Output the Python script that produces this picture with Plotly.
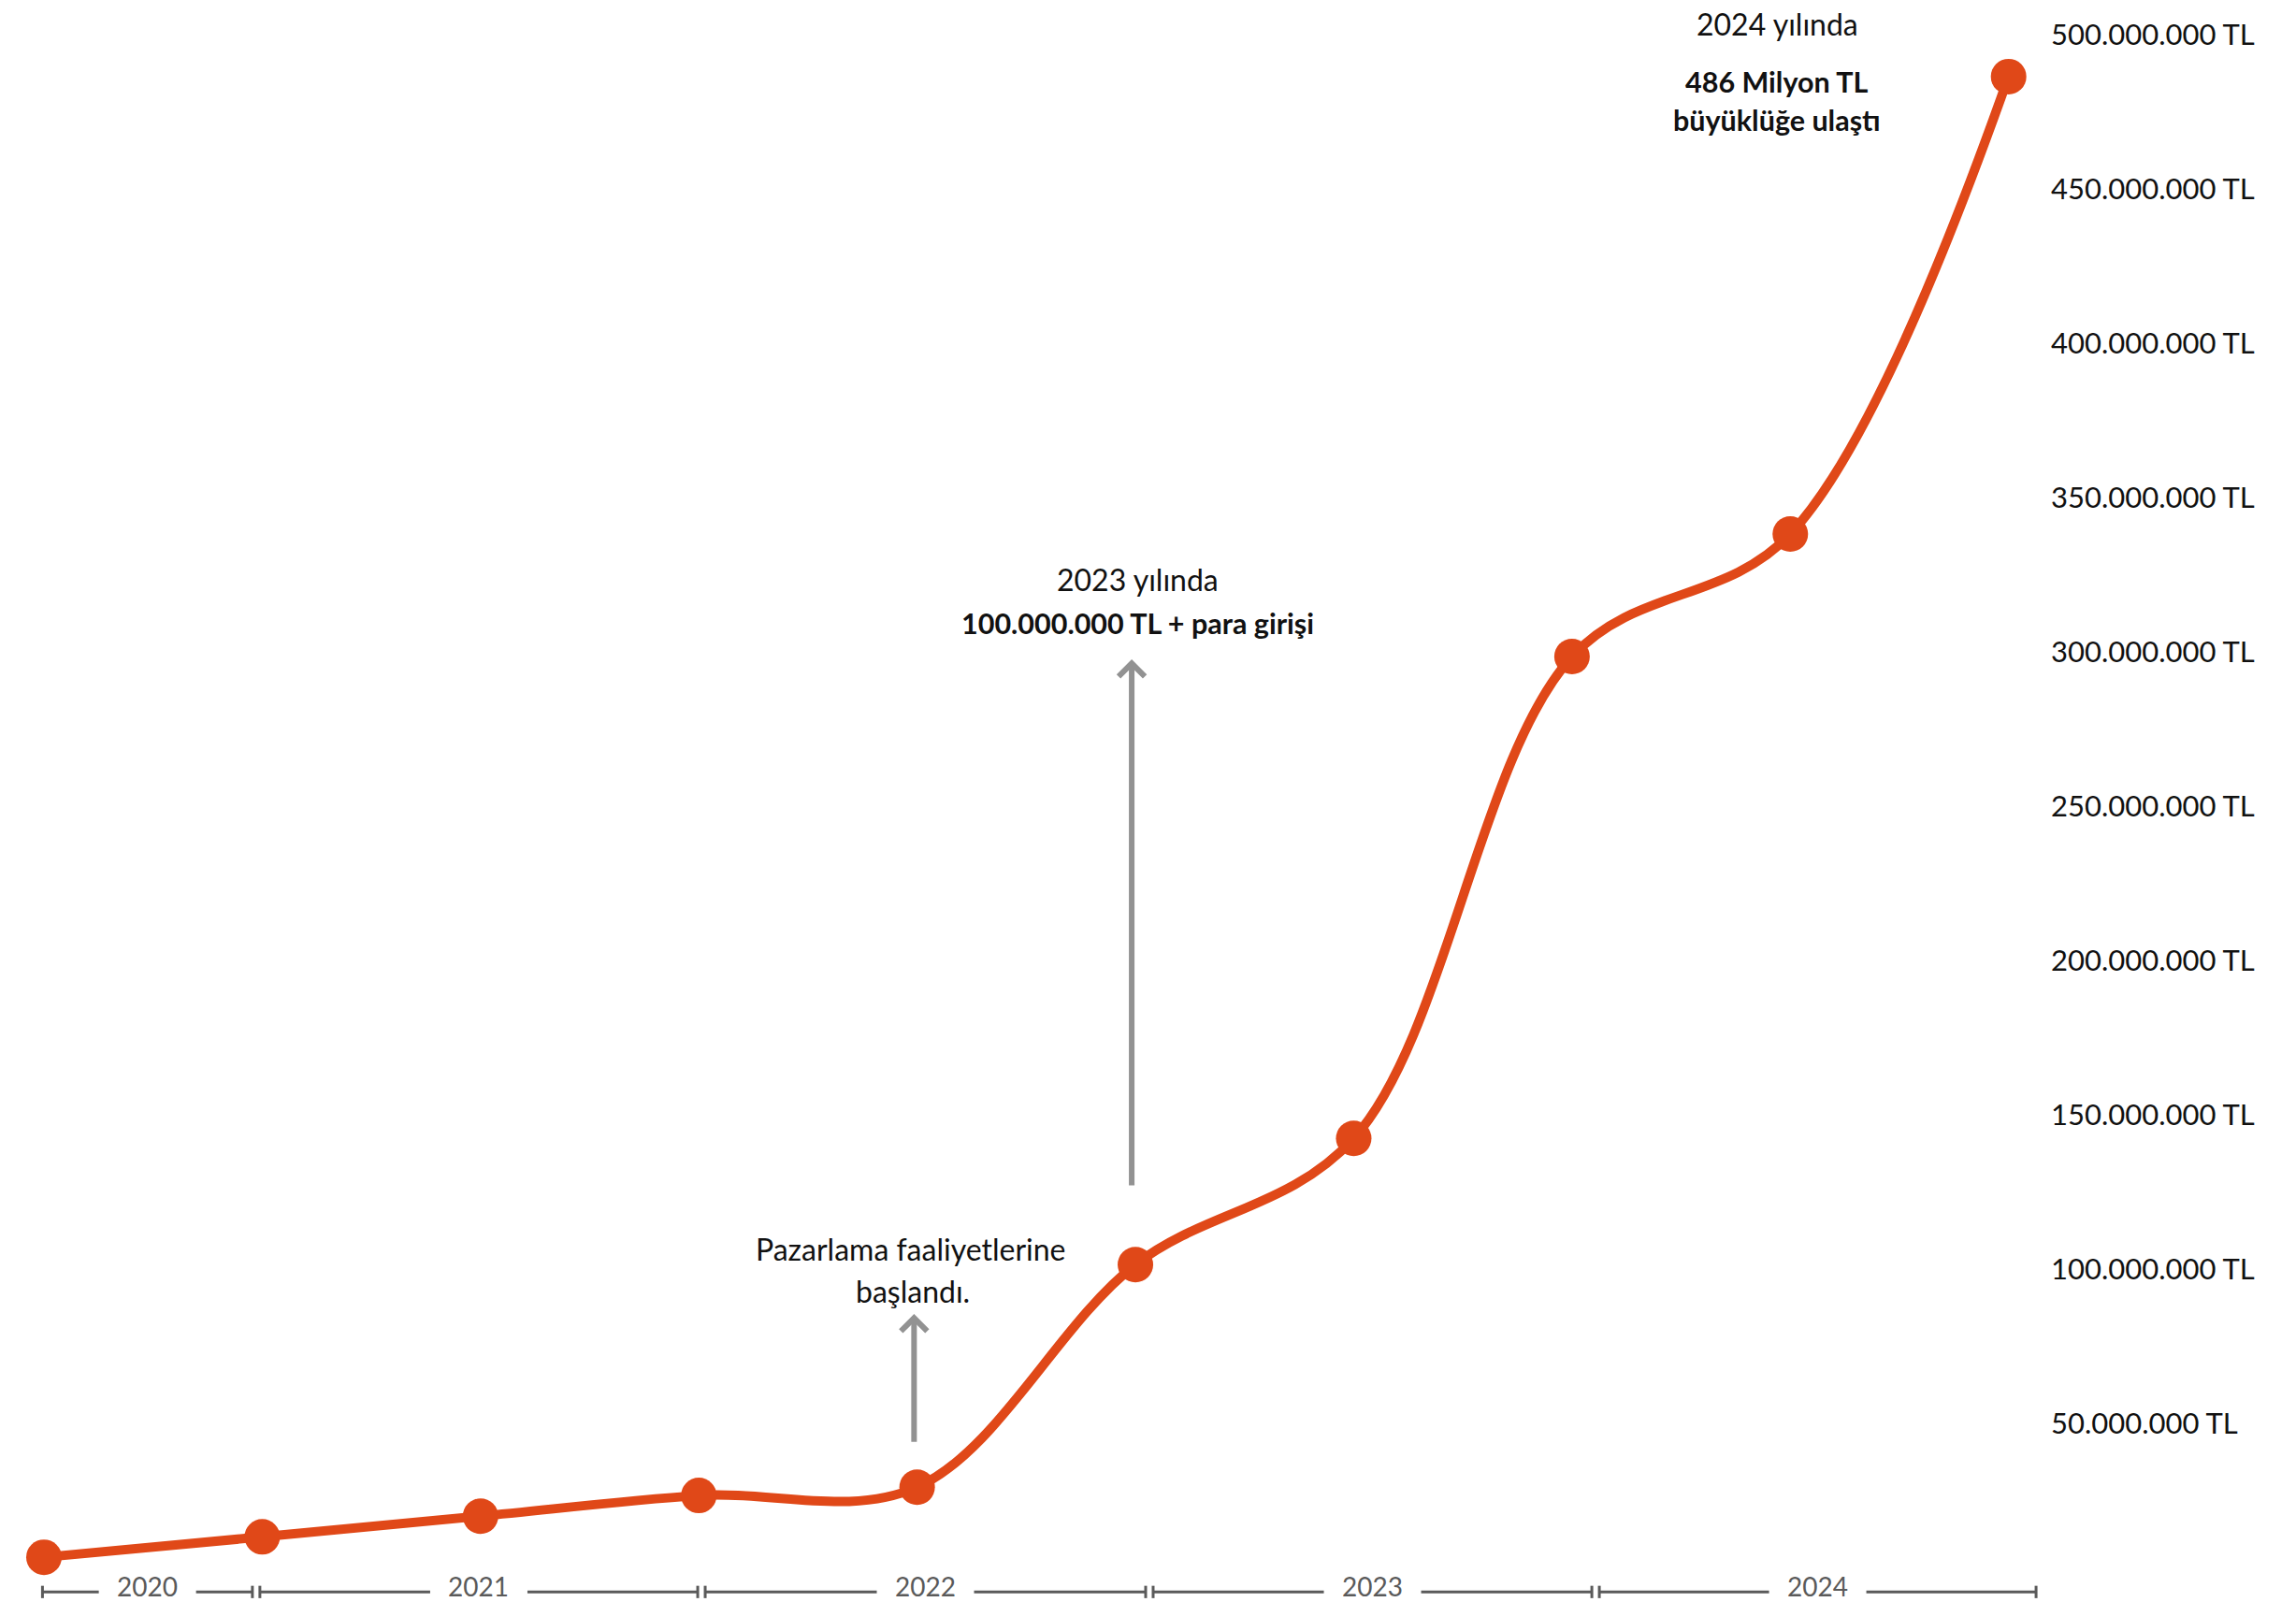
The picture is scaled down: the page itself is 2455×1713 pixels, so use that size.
import plotly.graph_objects as go

# ---- data ----
values_m = [6.7, 13.3, 20.0, 26.7, 29.4, 101.5, 142.4, 298.5, 338.2, 486.4]  # million TL
years = ["2020", "2021", "2022", "2023", "2024"]
year_bounds = [-0.024, 0.972, 3.012, 5.064, 7.108, 9.143]  # in point-index units
tick_vals_m = [50, 100, 150, 200, 250, 300, 350, 400, 450, 500]
tick_text = [f"{v:,}.000.000 TL".replace(",", ".") for v in tick_vals_m]

ORANGE = "#E04818"
AXIS_GRAY = "#5a5a5a"
ARROW_GRAY = "#929292"
FONT = "Lato"

x_idx = list(range(len(values_m)))

fig = go.Figure()
fig.add_trace(go.Scatter(
    x=x_idx, y=values_m, mode="lines+markers",
    line=dict(color=ORANGE, width=10, shape="spline", smoothing=1),
    marker=dict(color=ORANGE, size=38),
    hoverinfo="skip", showlegend=False, cliponaxis=False,
))

# ---- custom year axis ----
px_per_u = 233.4
axis_y = -4.55
cap_h = 2.0
gap_half = 52 / px_per_u
d = 4 / px_per_u
shapes = []
annotations = []
for i, yr in enumerate(years):
    b0, b1 = year_bounds[i] + d, year_bounds[i + 1] - d
    c = (year_bounds[i] + year_bounds[i + 1]) / 2
    for (xa, xb) in [(b0, c - gap_half), (c + gap_half, b1)]:
        shapes.append(dict(type="line", xref="x", yref="y", x0=xa, x1=xb, y0=axis_y, y1=axis_y,
                           line=dict(color=AXIS_GRAY, width=3)))
    for xc in (b0, b1):
        shapes.append(dict(type="line", xref="x", yref="y", x0=xc, x1=xc,
                           y0=axis_y - cap_h, y1=axis_y + cap_h,
                           line=dict(color=AXIS_GRAY, width=3)))
    annotations.append(dict(x=c, y=axis_y + 2.0, xref="x", yref="y", text=yr, showarrow=False,
                            xanchor="center", yanchor="middle",
                            font=dict(family=FONT, size=28, color=AXIS_GRAY)))

def txt(x, y, t, bold=False):
    annotations.append(dict(x=x, y=y, xref="x", yref="y",
                            text=f"<b>{t}</b>" if bold else t, showarrow=False,
                            xanchor="center", yanchor="middle",
                            font=dict(family=FONT, size=30.5 if bold else 32, color="#111111")))

txt(7.94, 503.6, "2024 yılında")
txt(7.94, 484.8, "486 Milyon TL", bold=True)
txt(7.94, 472.4, "büyüklüğe ulaştı", bold=True)
txt(5.01, 323.6, "2023 yılında")
txt(5.01, 309.4, "100.000.000 TL + para girişi", bold=True)
txt(3.97, 106.7, "Pazarlama faaliyetlerine")
txt(3.98, 93.0, "başlandı.")

for (xa, y_head, y_tail) in [(4.983, 297.6, 126.7), (3.986, 85.5, 43.6)]:
    annotations.append(dict(x=xa, y=y_head, ax=xa, ay=y_tail, xref="x", yref="y",
                            axref="x", ayref="y", text="", showarrow=True,
                            arrowhead=4, arrowsize=0.9, arrowwidth=6,
                            arrowcolor=ARROW_GRAY, standoff=0, startstandoff=0))

fig.update_layout(
    width=2455, height=1713,
    margin=dict(l=20, r=273, t=4, b=1),
    paper_bgcolor="white", plot_bgcolor="white",
    shapes=shapes, annotations=annotations,
    xaxis=dict(range=[-0.1157, 9.147], showgrid=False, zeroline=False, showline=False,
               showticklabels=False, ticks=""),
    yaxis=dict(range=[-7.5, 510], side="right", showgrid=False, zeroline=False,
               showline=False, ticks="", tickvals=tick_vals_m, ticktext=tick_text,
               ticklabelstandoff=10,
               tickfont=dict(family=FONT, size=31, color="#111111")),
    font=dict(family=FONT),
)

fig.write_html("out.html", config={"displayModeBar": False})

# remove default page margin so the figure sits flush in the window
with open("out.html", "r", encoding="utf-8") as f:
    html = f.read()
html = html.replace("<body>", '<body style="margin:0;overflow:hidden">', 1)
with open("out.html", "w", encoding="utf-8") as f:
    f.write(html)
